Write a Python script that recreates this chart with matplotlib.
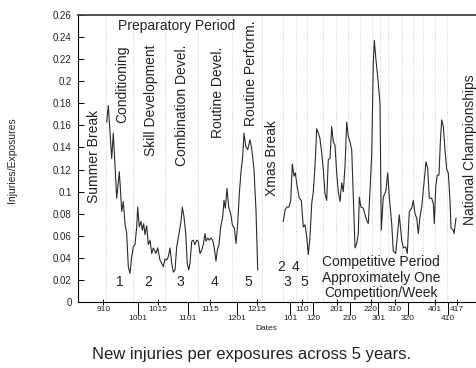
import matplotlib
matplotlib.use("Agg")
import matplotlib.pyplot as plt

plt.rcParams['font.family'] = ['Liberation Sans', 'DejaVu Sans']

# ---- data (x = session index along the season, y = injuries/exposures) ----
prep_x = [28.7, 30.3, 33.7, 35.3, 38.7, 41.3, 42.7, 43.7, 45.3, 47,
          48.7, 50.3, 52, 53.7, 55.3, 57, 58.7, 59.7, 61.3, 63,
          64.3, 65.7, 67, 68.7, 70.3, 72, 73.7, 75.3, 78, 79.7,
          82, 83.7, 85.3, 87, 88.7, 90.3, 92, 93.7, 95.3, 97,
          98.7, 101, 103, 104.3, 106, 107.7, 109.3, 110.7, 112, 113.7,
          115.3, 117, 118.7, 120.3, 122, 123.7, 125.3, 127, 128, 129.7,
          131.3, 133, 134.7, 136.3, 138, 139.3, 141, 142.7, 144.7, 146,
          147.3, 149, 150.7, 152.7, 154.3, 156.3, 158, 159.7, 161.3, 163,
          164.7, 166, 167.7, 169.7, 172, 173.7, 176, 178, 179.7]
prep_y = [.163, .178, .130, .153, .094, .118, .098, .082, .091, .071,
          .062, .032, .026, .041, .050, .052, .068, .086, .068, .073,
          .065, .071, .061, .069, .052, .056, .044, .049, .044, .049,
          .038, .035, .032, .039, .038, .041, .049, .035, .027, .029,
          .050, .062, .073, .086, .077, .062, .035, .029, .035, .055,
          .056, .052, .056, .055, .044, .047, .052, .062, .055, .058,
          .056, .058, .056, .049, .037, .047, .052, .068, .077, .092,
          .085, .103, .086, .080, .070, .067, .053, .071, .098, .118,
          .132, .153, .141, .138, .147, .139, .120, .083, .029]

comp_x = [205.3, 207, 208.7, 211, 212.7, 214.3, 216, 217.3, 219.3, 221.3,
          223.3, 225.3, 227, 228.7, 230.3, 232, 233.7, 235.3, 237, 238.7,
          240.3, 242, 243.7, 245.3, 247, 248.7, 250.3, 252, 253.7, 255.3,
          257, 258.7, 260.3, 262, 263.7, 265.3, 267, 268.7, 270.3, 272,
          273.7, 275.3, 277, 278.7, 280.3, 281.3, 283, 285.3, 287, 288.7,
          290.3, 292, 293.7, 295.3, 296.3, 298, 299.7, 302, 303.3, 305.3,
          308, 309.7, 311.3, 313.7, 315.3, 317.7, 319.3, 321.3, 323.7, 325.3,
          327.7, 329.3, 331.3, 333.7, 335.3, 337, 338.7, 340.3, 342, 343.7,
          346, 348, 349.7, 351.3, 353.7, 355.3, 356.3, 357.7, 359.3, 361,
          362.3, 363.7, 365.3, 367, 368.7, 370.3, 372, 373, 375.3, 376,
          378]
comp_y = [.073, .083, .086, .086, .092, .125, .114, .117, .104, .094,
          .092, .068, .070, .059, .043, .059, .089, .100, .123, .157,
          .153, .148, .135, .120, .098, .092, .129, .130, .159, .145,
          .142, .117, .100, .091, .108, .100, .123, .163, .150, .145,
          .138, .095, .049, .053, .062, .095, .086, .085, .079, .074,
          .071, .101, .133, .216, .237, .219, .204, .180, .065, .095,
          .101, .117, .095, .071, .046, .044, .059, .079, .056, .049,
          .050, .044, .082, .085, .092, .080, .076, .062, .077, .086,
          .108, .127, .121, .094, .094, .089, .071, .104, .115, .115,
          .144, .165, .159, .138, .120, .117, .092, .067, .065, .062,
          .076]

top_tick_pos = [25.3, 79.7, 132, 178.7, 224.3, 258.7, 292.7, 317, 357, 378.7]
top_tick_labels = ['910', '1015', '1115', '1215', '110', '201', '220', '310', '401', '417']
bot_tick_pos = [60, 109.7, 158.7, 212, 235, 272, 300.3, 330, 370]
bot_tick_labels = ['1001', '1101', '1201', '101', '120', '210', '301', '320', '410']

y_ticks = [0, 0.02, 0.04, 0.06, 0.08, 0.1, 0.12, 0.14, 0.16, 0.18, 0.2, 0.22, 0.24, 0.26]
y_tick_labels = ['0', '0.02', '0.04', '0.06', '0.08', '0.1', '0.12', '0.14', '0.16',
                 '0.18', '0.2', '0.22', '0.24', '0.26']

grid_pos = [28, 55, 87, 119.5, 154, 184, 205, 218, 229, 245, 258, 270, 282,
            294, 302, 310, 324, 335, 345, 357, 369]

phase_labels = ['Summer Break', 'Conditioning', 'Skill Development', 'Combination Devel.',
                'Routine Devel.', 'Routine Perform.', 'Xmas Break', 'National Championships']
phase_x = [16, 44.5, 72.5, 104.5, 139.5, 173, 194, 392]
phase_y = [0.132, 0.197, 0.1825, 0.178, 0.190, 0.207, 0.130, 0.1377]

num_labels = ['1', '2', '3', '4', '5', '2', '4', '3', '5']
num_x = [42, 70.3, 102, 136.3, 170.3, 203, 217.3, 209.7, 226.3]
num_y = [0.0184, 0.0184, 0.0184, 0.0184, 0.0184, 0.032, 0.032, 0.0184, 0.0184]

comp_lines = ['Competitive Period', 'Approximately One', 'Competition/Week']
comp_line_y = [0.0362, 0.0220, 0.0084]

# ---- figure ----
fig = plt.figure(figsize=(4.76, 3.68), dpi=100)
ax = fig.add_axes([78 / 476, 1 - 302 / 368, 398 / 476, 287 / 368])

for g in grid_pos:
    ax.axvline(g, color='#cfcfcf', lw=0.7, ls=(0, (1, 1.5)), zorder=0)

ax.plot(prep_x, prep_y, color='#2b2b2b', lw=0.8)
ax.plot(comp_x, comp_y, color='#2b2b2b', lw=0.8)

ax.set_xlim(0, 398)
ax.set_ylim(0, 0.26)

ax.set_yticks(y_ticks)
ax.set_yticklabels(y_tick_labels, fontsize=7, color='#222222')
ax.tick_params(axis='y', direction='in', length=4, width=0.7, pad=4.5)

ax.set_xticks(top_tick_pos)
ax.set_xticklabels(top_tick_labels, fontsize=6, color='#222222')
ax.set_xticks(bot_tick_pos, minor=True)
ax.set_xticklabels(bot_tick_labels, minor=True, fontsize=6, color='#222222')
ax.tick_params(axis='x', which='major', direction='inout', length=4, width=0.7, pad=1)
ax.tick_params(axis='x', which='minor', direction='out', length=9, width=0.7, pad=0.5)

ax.spines['right'].set_visible(False)
ax.spines['top'].set_linewidth(1.3)
ax.spines['top'].set_color('#444444')
ax.spines['left'].set_linewidth(0.8)
ax.spines['bottom'].set_linewidth(0.8)

for t, x, y in zip(phase_labels, phase_x, phase_y):
    ax.text(x, y, t, rotation=90, ha='center', va='center', fontsize=10, color='#222222')

ax.text(98.5, 0.25, 'Preparatory Period', ha='center', va='center', fontsize=10, color='#222222')

for t, x, y in zip(num_labels, num_x, num_y):
    ax.text(x, y, t, ha='center', va='center', fontsize=10, color='#222222')

for t, y in zip(comp_lines, comp_line_y):
    ax.text(303, y, t, ha='center', va='center', fontsize=10, color='#222222')

fig.text(12 / 476, 1 - 160 / 368, 'Injuries/Exposures', rotation=90, ha='center', va='center',
         fontsize=7.5, color='#222222')
fig.text(266 / 476, 1 - 328 / 368, 'Dates', ha='center', va='center', fontsize=6, color='#222222')
fig.text(251 / 476, 1 - 355 / 368, 'New injuries per exposures across 5 years.', ha='center',
         va='center', fontsize=12, color='#222222')

fig.savefig('out.png', dpi=100)
